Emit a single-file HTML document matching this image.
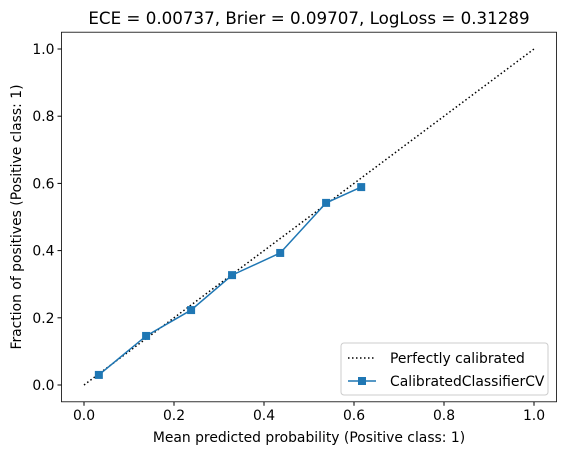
<!DOCTYPE html>
<html><head><meta charset="utf-8"><style>body{margin:0;background:#fff}svg{display:block;font-family:"DejaVu Sans","Liberation Sans",sans-serif}</style></head>
<body>
<svg id="chart" width="567" height="455" viewBox="0 0 567 455" xmlns="http://www.w3.org/2000/svg">
<text x="309" y="24" font-size="16.7" text-anchor="middle">ECE = 0.00737, Brier = 0.09707, LogLoss = 0.31289</text>
<g id="axes"></g>
<text x="309" y="442" font-size="13.9" text-anchor="middle">Mean predicted probability (Positive class: 1)</text>
<text transform="translate(21,217) rotate(-90)" font-size="13.9" text-anchor="middle">Fraction of positives (Positive class: 1)</text>
<g>
<rect x="341" y="343" width="207" height="52" rx="3" fill="#fff" fill-opacity="0.8" stroke="#ccc"/>
<line x1="348" y1="358" x2="376" y2="358" stroke="#000" stroke-width="1.5" stroke-dasharray="1.5,2.5"/>
<text x="390" y="363" font-size="13.9">Perfectly calibrated</text>
<line x1="348" y1="381" x2="376" y2="381" stroke="#1f77b4" stroke-width="1.5"/>
<rect x="358" y="377" width="8" height="8" fill="#1f77b4"/>
<text x="390" y="386" font-size="13.9">CalibratedClassifierCV</text>
</g>
</svg>
<script>
const xVals=[0.033,0.138,0.238,0.329,0.436,0.538,0.616];
const yVals=[0.03,0.146,0.223,0.327,0.393,0.542,0.589];
const ticks=[0,0.2,0.4,0.6,0.8,1.0];
const tickLabels=["0.0","0.2","0.4","0.6","0.8","1.0"];
const NS="http://www.w3.org/2000/svg";
const X=v=>84+v*450, Y=v=>385-v*336;
const g=document.getElementById('axes');
function mk(t,a){const e=document.createElementNS(NS,t);for(const k in a)e.setAttribute(k,a[k]);g.appendChild(e);return e;}
const fr=mk('rect',{x:X(-0.05),y:Y(1.05),width:X(1.05)-X(-0.05),height:Y(-0.05)-Y(1.05),fill:'none',stroke:'#000','stroke-width':0.8});


ticks.forEach((t,i)=>{
 const a=mk('line',{x1:X(t),x2:X(t),y1:Y(-0.05),y2:Y(-0.05)+4,stroke:'#000'});
 
 
 const b=mk('text',{x:X(t),y:Y(-0.05)+18,'font-size':13.9,'text-anchor':'middle'});b.textContent=tickLabels[i];
 
 
 const c=mk('line',{x1:X(-0.05)-4,x2:X(-0.05),y1:Y(t),y2:Y(t),stroke:'#000'});
 
 
 const d=mk('text',{x:X(-0.05)-7,y:Y(t)+5,'font-size':13.9,'text-anchor':'end'});d.textContent=tickLabels[i];
 
 
});
const diag=mk('line',{x1:X(0),y1:Y(0),x2:X(1),y2:Y(1),stroke:'#000','stroke-width':1.5,'stroke-dasharray':'1.5,2.5'});


const pl=mk('polyline',{points:xVals.map((x,i)=>X(x)+','+Y(yVals[i])).join(' '),fill:'none',stroke:'#1f77b4','stroke-width':1.5});


xVals.forEach((x,i)=>{
 const r=mk('rect',{x:X(x)-4,y:Y(yVals[i])-4,width:8,height:8,fill:'#1f77b4'});
 
 
});
</script>
</body></html>
